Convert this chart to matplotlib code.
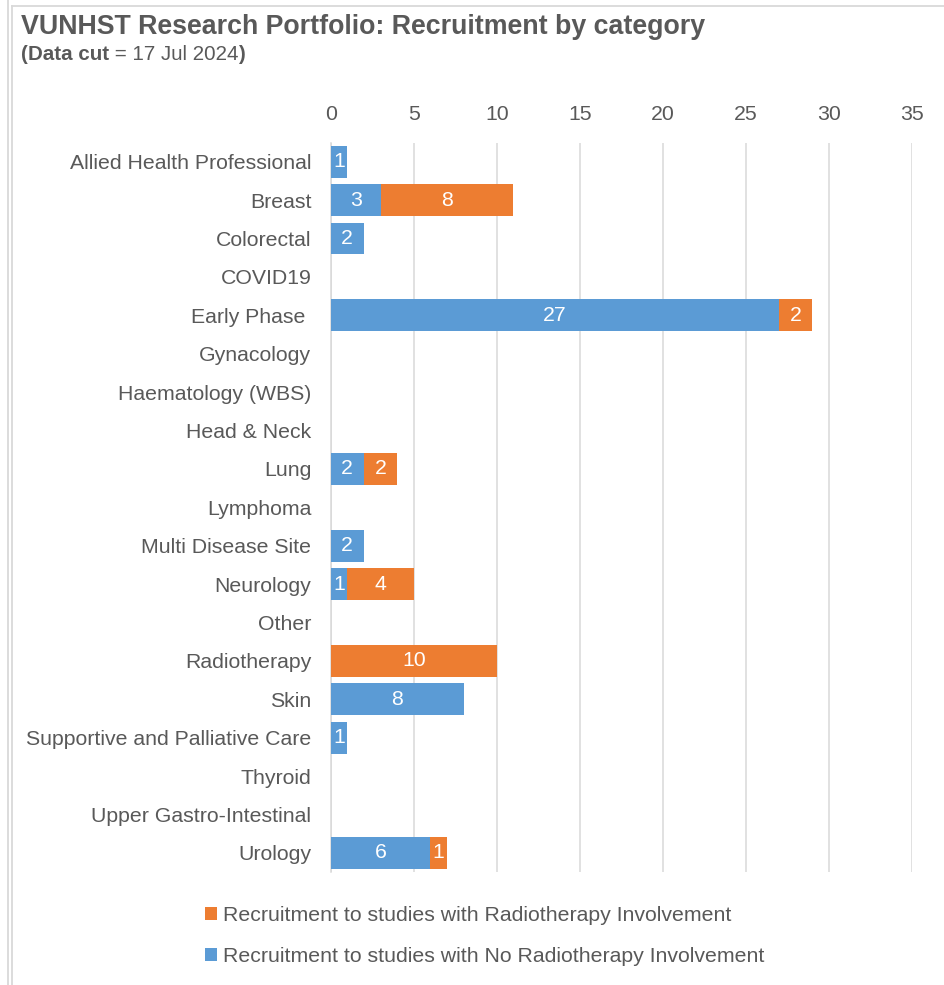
import matplotlib
matplotlib.use("Agg")
import matplotlib.pyplot as plt
from matplotlib.patches import Patch
from matplotlib.lines import Line2D

plt.rcParams['font.family'] = ['Liberation Sans', 'DejaVu Sans']

categories = [
    "Allied Health Professional", "Breast", "Colorectal", "COVID19",
    "Early Phase ", "Gynacology", "Haematology (WBS)", "Head & Neck",
    "Lung", "Lymphoma", "Multi Disease Site", "Neurology", "Other",
    "Radiotherapy", "Skin", "Supportive and Palliative Care", "Thyroid",
    "Upper Gastro-Intestinal", "Urology",
]
no_rt = [1, 3, 2, 0, 27, 0, 0, 0, 2, 0, 2, 1, 0, 0, 8, 1, 0, 0, 6]
with_rt = [0, 8, 0, 0, 2, 0, 0, 0, 2, 0, 0, 4, 0, 10, 0, 0, 0, 0, 1]
x_ticks = [0, 5, 10, 15, 20, 25, 30, 35]

BLUE = "#5B9BD5"
ORANGE = "#ED7D31"
TEXT = "#595959"
GRID = "#D9D9D9"
FS = 15.3

W, H = 944, 985
fig = plt.figure(figsize=(W / 100, H / 100), dpi=100)
ax = fig.add_axes([330.7 / W, 1 - 872 / H, (911.7 - 330.7) / W, (872 - 142.5) / H])

y = list(range(len(categories)))
bh = 0.83
b1 = ax.barh(y, no_rt, height=bh, color=BLUE, zorder=3)
b2 = ax.barh(y, with_rt, left=no_rt, height=bh, color=ORANGE, zorder=3)

for bars, vals in ((b1, no_rt), (b2, with_rt)):
    for bar, v in zip(bars, vals):
        if v > 0:
            ax.text(bar.get_x() + bar.get_width() / 2, bar.get_y() + bar.get_height() / 2,
                    str(v), ha="center", va="center", color="white", fontsize=FS, zorder=4)

ax.set_xlim(0, 35)
ax.set_ylim(len(categories) - 0.5, -0.5)
ax.set_xticks(x_ticks)
ax.xaxis.tick_top()
ax.set_yticks(y)
ax.set_yticklabels(categories)
ax.tick_params(axis="both", length=0, labelsize=FS, colors=TEXT)
ax.tick_params(axis="y", pad=14)
ax.tick_params(axis="x", pad=13.5)
ax.grid(axis="x", color=GRID, linewidth=1.1, zorder=0)
for s in ("top", "right", "bottom"):
    ax.spines[s].set_visible(False)
ax.spines["left"].set_color(GRID)
ax.spines["left"].set_linewidth(1.1)

fig.text(21 / W, 1 - 27.5 / H, "VUNHST Research Portfolio: Recruitment by category",
         fontsize=19.3, fontweight="bold", color=TEXT, ha="left", va="center")

# subtitle with mixed weights, laid out piece by piece
sub = [("(", "bold"), ("Data cut", "bold"), (" = 17 Jul 2024", "normal"), (")", "bold")]
renderer = fig.canvas.get_renderer()
xpos = 21 / W
for txt, wt in sub:
    t = fig.text(xpos, 1 - 54 / H, txt, fontsize=14.8, fontweight=wt, color=TEXT,
                 ha="left", va="center")
    bb = t.get_window_extent(renderer=renderer)
    xpos += bb.width / W

handles = [Patch(facecolor=ORANGE, edgecolor="none"), Patch(facecolor=BLUE, edgecolor="none")]
labels = ["Recruitment to studies with Radiotherapy Involvement",
          "Recruitment to studies with No Radiotherapy Involvement"]
leg = fig.legend(handles, labels, loc="center left", bbox_to_anchor=(205 / W, 1 - 936 / H),
                 frameon=False, fontsize=FS, handlelength=0.55, handleheight=0.55,
                 handletextpad=0.3, labelspacing=1.04, borderpad=0, borderaxespad=0)
for t in leg.get_texts():
    t.set_color(TEXT)

# outer frame lines
fig.add_artist(Line2D([7.5 / W, 7.5 / W], [0, 1], color=GRID, lw=1.3))
fig.add_artist(Line2D([11.5 / W, 11.5 / W], [0, 1 - 5.5 / H], color=GRID, lw=1.3))
fig.add_artist(Line2D([11.5 / W, 1], [1 - 5.5 / H, 1 - 5.5 / H], color=GRID, lw=1.3))

fig.savefig("out.png", dpi=100, facecolor="white")
